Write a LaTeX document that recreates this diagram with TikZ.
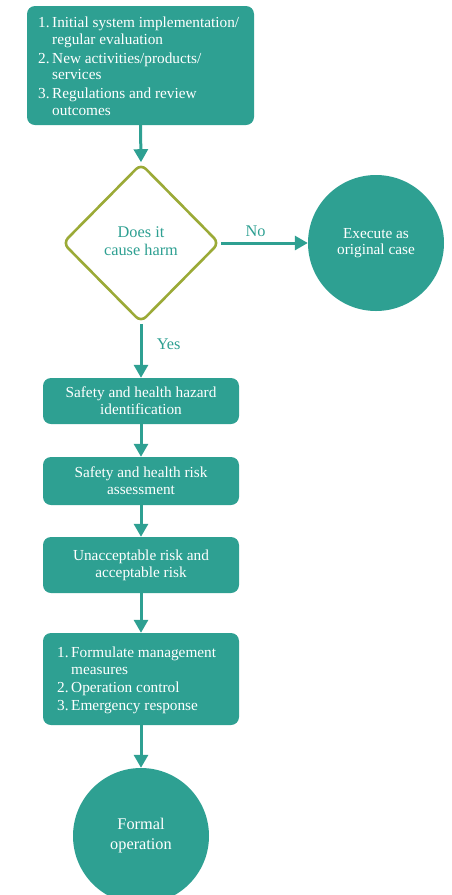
\documentclass[tikz,border=0pt]{standalone}
\usepackage{fontspec}
\setmainfont{Liberation Serif}
\usetikzlibrary{shapes.geometric,arrows.meta,positioning}
\definecolor{teal1}{RGB}{46,160,146}
\definecolor{olive1}{RGB}{155,170,55}
\begin{document}
\begin{tikzpicture}[x=1pt,y=1pt,
  txt/.style={font=\fontsize{15.3}{16.7}\selectfont},
  bigtxt/.style={font=\fontsize{16.3}{18.5}\selectfont},
  box/.style={fill=teal1, rounded corners=8pt, text=white, txt, inner sep=0pt},
  disc/.style={circle, fill=teal1, text=white, txt, align=center, inner sep=0pt, minimum size=136pt},
  decision/.style={diamond, draw=olive1, line width=2.6pt, rounded corners=7pt, fill=white,
    text=teal1, bigtxt, align=center, inner sep=0pt, minimum width=157pt, minimum height=159pt},
  flow/.style={draw=teal1, line width=3pt, -{Triangle[width=14pt,length=13pt]}},
  lbl/.style={text=teal1, bigtxt}
]
\useasboundingbox (0,0) rectangle (452,-895);

% start box
\node[box, minimum width=227pt, minimum height=119pt] (start) at (140.5,-65.5) {};
\node[txt, text=white, anchor=north west, align=left, inner sep=0pt] (startlist) at (38,-16)
 {\begin{tabular}{@{}r@{\,}l@{}}
  1.& Initial system implementation/\\
    & regular evaluation\\[2pt]
  2.& New activities/products/\\
    & services\\[2pt]
  3.& Regulations and review\\
    & outcomes
 \end{tabular}};

% decision
\node[decision] (dec) at (141,-243) {\raisebox{3pt}{\begin{tabular}{@{}c@{}}Does it\\cause harm\end{tabular}}};

% side outcome
\node[disc] (exec) at (376,-243) {Execute as\\original case};

% process steps
\node[box, minimum width=196pt, minimum height=46pt, align=center] (haz) at (141,-401) {Safety and health hazard\\identification};
\node[box, minimum width=196pt, minimum height=48pt, align=center] (ass) at (141,-481) {Safety and health risk\\assessment};
\node[box, minimum width=196pt, minimum height=56pt, align=center] (risk) at (141,-565) {Unacceptable risk and\\acceptable risk};
\node[box, minimum width=196pt, minimum height=92pt] (meas) at (141,-679) {};
\node[txt, text=white, anchor=north west, align=left, inner sep=0pt] (measlist) at (57,-646)
 {\begin{tabular}{@{}r@{\,}l@{}}
  1.& Formulate management\\
    & measures\\[1pt]
  2.& Operation control\\[1.5pt]
  3.& Emergency response
 \end{tabular}};

% end
\node[disc, font=\fontsize{16.3}{20}\selectfont] (formal) at (141,-836) {Formal\\operation};

% connectors
\draw[flow] (start.south) -- (dec.north);
\draw[flow] (dec.east) -- node[lbl, pos=0.4, above=2pt] {No} (exec.west);
\draw[flow] (dec.south) -- node[lbl, pos=0.38, right=11pt] {Yes} (haz.north);
\draw[flow] (haz.south) -- (ass.north);
\draw[flow] (ass.south) -- (risk.north);
\draw[flow] (risk.south) -- (meas.north);
\draw[flow] (meas.south) -- (formal.north);
\end{tikzpicture}
\end{document}
